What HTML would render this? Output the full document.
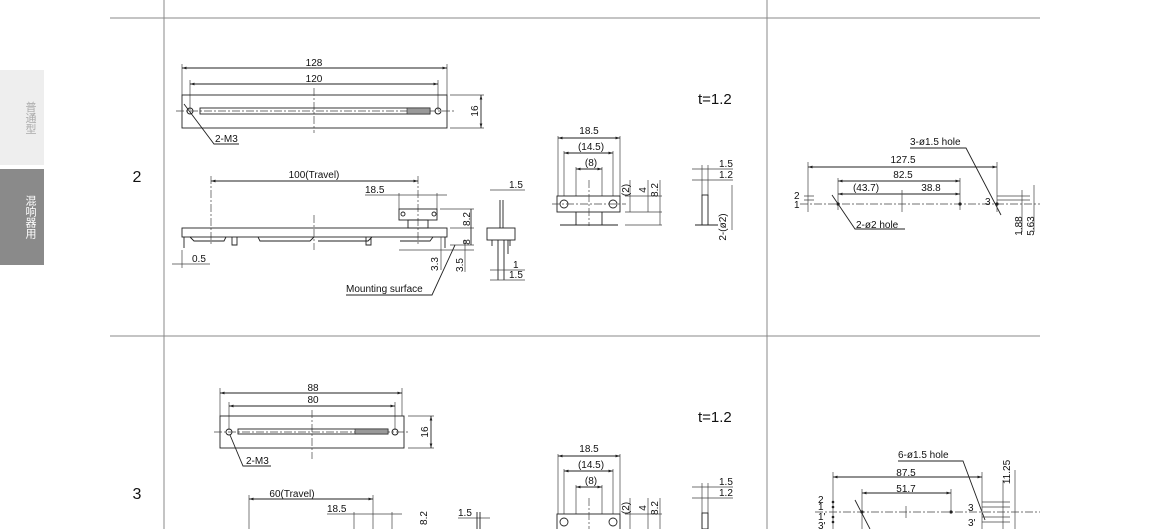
<!DOCTYPE html>
<html><head><meta charset="utf-8"><style>
html,body{margin:0;padding:0;background:#fff;width:1150px;height:529px;overflow:hidden;position:relative}
svg{display:block;position:absolute;left:0;top:0}
text{font-family:"Liberation Sans",Arial,sans-serif;font-size:10px;fill:#111}
.l{stroke:#222;stroke-width:.9;fill:none}
.t{stroke:#444;stroke-width:.7;fill:none}
.c{stroke:#444;stroke-width:.7;fill:none;stroke-dasharray:8 2 2 2}
.g{stroke:#888;stroke-width:1}
.tab{position:absolute;left:0;width:44px;z-index:2}
.tab span{position:absolute;left:24px;top:50%;transform:translateY(-50%);writing-mode:vertical-rl;white-space:nowrap;font-family:"Liberation Sans","Noto Sans CJK SC",sans-serif;font-size:11px;line-height:12px}
</style></head><body>
<div class="tab" style="top:70px;height:95px;background:#eeeeee;color:#aaa"><span>普通型</span></div>
<div class="tab" style="top:169px;height:96px;background:#8a8a8a;color:#fff"><span>混响器用</span></div>
<svg width="1150" height="529" viewBox="0 0 1150 529">
<defs><marker id="a" viewBox="0 0 10 10" refX="10" refY="5" markerWidth="5" markerHeight="5" orient="auto-start-reverse"><path d="M0,2L10,5L0,8z" fill="#222"/></marker></defs>
<line class="g" x1="110" y1="18" x2="1040" y2="18"/>
<line class="g" x1="110" y1="336" x2="1040" y2="336"/>
<line class="g" x1="164" y1="0" x2="164" y2="529"/>
<line class="g" x1="767" y1="0" x2="767" y2="529"/>
<text x="137" y="182" text-anchor="middle" style="font-size:16px">2</text>
<text x="137" y="499" text-anchor="middle" style="font-size:16px">3</text>

<line class="t" x1="182" y1="64" x2="182" y2="95"/><line class="t" x1="447" y1="64" x2="447" y2="95"/>
<line class="l" x1="182" y1="68" x2="447" y2="68" marker-start="url(#a)" marker-end="url(#a)"/>
<text x="314" y="66" text-anchor="middle">128</text>
<line class="t" x1="190" y1="80" x2="190" y2="110"/><line class="t" x1="438" y1="80" x2="438" y2="110"/>
<line class="l" x1="190" y1="84" x2="438" y2="84" marker-start="url(#a)" marker-end="url(#a)"/>
<text x="314" y="82" text-anchor="middle">120</text>
<rect class="l" x="182" y="95" width="265" height="33"/>
<line class="c" x1="176" y1="111" x2="455" y2="111"/>
<line class="c" x1="314" y1="88" x2="314" y2="133"/>
<rect class="l" x="200" y="108" width="230" height="6"/>
<rect x="407" y="108" width="23" height="6" fill="#999" stroke="#222" stroke-width=".6"/>
<circle class="l" cx="190" cy="111" r="3"/><circle class="l" cx="438" cy="111" r="3"/>
<line class="t" x1="450" y1="95" x2="484" y2="95"/><line class="t" x1="450" y1="128" x2="484" y2="128"/>
<line class="l" x1="481" y1="95" x2="481" y2="128" marker-start="url(#a)" marker-end="url(#a)"/>
<text x="478" y="111" text-anchor="middle" transform="rotate(-90 478 111)">16</text>
<polyline class="l" points="184,104 214,144 239,144"/>
<text x="215" y="142">2-M3</text>

<text x="314" y="178" text-anchor="middle">100(Travel)</text>
<line class="l" x1="211" y1="181" x2="418" y2="181" marker-start="url(#a)" marker-end="url(#a)"/>
<line class="c" x1="211" y1="176" x2="211" y2="245"/><line class="c" x1="418" y1="176" x2="418" y2="245"/>
<text x="365" y="193">18.5</text>
<line class="t" x1="365" y1="195" x2="447" y2="195"/>
<line class="t" x1="399" y1="193" x2="399" y2="209"/><line class="t" x1="437" y1="193" x2="437" y2="209"/>
<rect class="l" x="399" y="209" width="38" height="11"/>
<circle class="l" cx="403" cy="214" r="2"/><circle class="l" cx="434" cy="214" r="2"/>
<rect class="l" x="408" y="220" width="20" height="8"/>
<rect class="l" x="182" y="228" width="265" height="9"/>
<path class="l" d="M184,237V248M445,237V248M190,237l4,4h30l2,-4M232,237v8h5v-8M258,237l2,4h50l4,-4M318,241h50l4,-4M366,237v8h5v-8M400,241h30l3,-4"/>
<line class="c" x1="314" y1="215" x2="314" y2="250"/>
<line class="t" x1="182" y1="250" x2="182" y2="268"/><line class="t" x1="172" y1="264" x2="210" y2="264"/>
<text x="192" y="262">0.5</text>
<line class="t" x1="440" y1="209" x2="474" y2="209"/><line class="t" x1="450" y1="228" x2="474" y2="228"/><line class="t" x1="450" y1="245" x2="474" y2="245"/>
<line class="t" x1="399" y1="250" x2="474" y2="250"/>
<line class="l" x1="471" y1="209" x2="471" y2="228"/><line class="l" x1="471" y1="228" x2="471" y2="245"/>
<text x="470" y="219" text-anchor="middle" transform="rotate(-90 470 219)">8.2</text>
<text x="470" y="242" text-anchor="middle" transform="rotate(-90 470 242)">8</text>
<line class="t" x1="441" y1="237" x2="441" y2="270"/><line class="t" x1="465" y1="240" x2="465" y2="272"/>
<text x="438" y="264" text-anchor="middle" transform="rotate(-90 438 264)">3.3</text>
<text x="463" y="265" text-anchor="middle" transform="rotate(-90 463 265)">3.5</text>
<polyline class="l" points="346,295 432,295 455,245"/>
<text x="346" y="292">Mounting surface</text>
<rect class="l" x="487" y="228" width="28" height="12"/>
<path class="l" d="M500,200V228M503,200V228M492,240v6M510,240v6M498,240v40M504,240v40M508,240v14"/>
<line class="t" x1="490" y1="190" x2="525" y2="190"/><text x="509" y="188">1.5</text>
<line class="t" x1="490" y1="270" x2="525" y2="270"/><text x="513" y="268">1</text>
<line class="t" x1="490" y1="280" x2="525" y2="280"/><text x="509" y="278">1.5</text>

<text x="698" y="104" style="font-size:15px">t=1.2</text>
<text x="589" y="134" text-anchor="middle">18.5</text>
<line class="l" x1="558" y1="138" x2="620" y2="138" marker-start="url(#a)" marker-end="url(#a)"/>
<text x="591" y="150" text-anchor="middle">(14.5)</text>
<line class="l" x1="564" y1="153" x2="613" y2="153" marker-start="url(#a)" marker-end="url(#a)"/>
<text x="591" y="166" text-anchor="middle">(8)</text>
<line class="l" x1="576" y1="169" x2="602" y2="169" marker-start="url(#a)" marker-end="url(#a)"/>
<path class="t" d="M558,136V196M620,136V196M564,151V196M613,151V196M576,167V196M602,167V196"/>
<rect class="l" x="557" y="196" width="63" height="16"/>
<circle class="l" cx="564" cy="204" r="4"/><circle class="l" cx="613" cy="204" r="4"/>
<line class="c" x1="552" y1="204" x2="626" y2="204"/><line class="c" x1="589" y1="180" x2="589" y2="226"/>
<path class="l" d="M576,212V225M602,212V225M560,225H618"/>
<path class="t" d="M625,196H662M625,212H662M625,225H662M630,180V212M648,180V212M660,180V225"/>
<text x="629" y="190" text-anchor="middle" transform="rotate(-90 629 190)">(2)</text>
<text x="646" y="190" text-anchor="middle" transform="rotate(-90 646 190)">4</text>
<text x="658" y="190" text-anchor="middle" transform="rotate(-90 658 190)">8.2</text>
<path class="t" d="M692,169H733M692,180H733M702,165V196M708,165V196M732,185V230"/>
<text x="719" y="167">1.5</text><text x="719" y="178">1.2</text>
<rect class="l" x="702" y="195" width="6" height="30"/>
<path class="l" d="M695,225H718"/>
<text x="726" y="227" text-anchor="middle" transform="rotate(-90 726 227)">2-(ø2)</text>

<text x="910" y="145">3-ø1.5 hole</text>
<polyline class="l" points="910,148 966,148 1001,215"/>
<text x="903" y="163" text-anchor="middle">127.5</text>
<line class="l" x1="808" y1="167" x2="997" y2="167" marker-start="url(#a)" marker-end="url(#a)"/>
<text x="903" y="178" text-anchor="middle">82.5</text>
<line class="l" x1="838" y1="181" x2="960" y2="181" marker-start="url(#a)" marker-end="url(#a)"/>
<text x="866" y="191" text-anchor="middle">(43.7)</text><text x="931" y="191" text-anchor="middle">38.8</text>
<line class="l" x1="838" y1="194" x2="960" y2="194" marker-start="url(#a)" marker-end="url(#a)"/>
<path class="t" d="M808,162V212M838,178V210M960,178V210M997,162V212M902,190V212"/>
<line class="c" x1="800" y1="204" x2="1040" y2="204"/>
<circle cx="838" cy="204" r="1.6" fill="#222"/><circle cx="960" cy="204" r="1.6" fill="#222"/><circle cx="997" cy="204" r="1.6" fill="#222"/>
<text x="794" y="199">2</text><text x="794" y="208">1</text>
<path class="t" d="M804,196H814M804,200H814M997,196H1030M997,200H1030M1022,190V232M1034,185V232"/>
<text x="985" y="205">3</text>
<polyline class="l" points="832,195 855,229 905,229"/>
<text x="856" y="228">2-ø2 hole</text>
<text x="1022" y="226" text-anchor="middle" transform="rotate(-90 1022 226)">1.88</text>
<text x="1034" y="226" text-anchor="middle" transform="rotate(-90 1034 226)">5.63</text>

<line class="t" x1="220" y1="388" x2="220" y2="416"/><line class="t" x1="402" y1="388" x2="402" y2="416"/>
<line class="l" x1="220" y1="393" x2="402" y2="393" marker-start="url(#a)" marker-end="url(#a)"/>
<text x="313" y="391" text-anchor="middle">88</text>
<line class="t" x1="229" y1="402" x2="229" y2="430"/><line class="t" x1="395" y1="402" x2="395" y2="430"/>
<line class="l" x1="229" y1="406" x2="395" y2="406" marker-start="url(#a)" marker-end="url(#a)"/>
<text x="313" y="403" text-anchor="middle">80</text>
<rect class="l" x="220" y="416" width="184" height="32"/>
<line class="c" x1="214" y1="432" x2="410" y2="432"/>
<line class="c" x1="312" y1="410" x2="312" y2="459"/>
<rect class="l" x="238" y="429" width="150" height="5"/>
<rect x="355" y="429" width="33" height="5" fill="#999" stroke="#222" stroke-width=".6"/>
<circle class="l" cx="229" cy="432" r="3"/><circle class="l" cx="395" cy="432" r="3"/>
<line class="t" x1="408" y1="416" x2="434" y2="416"/><line class="t" x1="408" y1="448" x2="434" y2="448"/>
<line class="l" x1="431" y1="416" x2="431" y2="448" marker-start="url(#a)" marker-end="url(#a)"/>
<text x="428" y="432" text-anchor="middle" transform="rotate(-90 428 432)">16</text>
<polyline class="l" points="230,435 243,466 271,466"/>
<text x="246" y="464">2-M3</text>
<text x="292" y="497" text-anchor="middle">60(Travel)</text>
<line class="l" x1="249" y1="499" x2="373" y2="499" marker-start="url(#a)" marker-end="url(#a)"/>
<path class="t" d="M249,495V529M373,495V529M354,512V529M392,512V529"/>
<text x="327" y="512">18.5</text>
<line class="t" x1="327" y1="514" x2="402" y2="514"/>
<text x="427" y="518" text-anchor="middle" transform="rotate(-90 427 518)">8.2</text>
<text x="458" y="516">1.5</text><line class="t" x1="458" y1="518" x2="490" y2="518"/>
<path class="l" d="M477,512V529M480,512V529"/>

<text x="698" y="422" style="font-size:15px">t=1.2</text>
<text x="589" y="452" text-anchor="middle">18.5</text>
<line class="l" x1="558" y1="456" x2="620" y2="456" marker-start="url(#a)" marker-end="url(#a)"/>
<text x="591" y="468" text-anchor="middle">(14.5)</text>
<line class="l" x1="564" y1="471" x2="613" y2="471" marker-start="url(#a)" marker-end="url(#a)"/>
<text x="591" y="484" text-anchor="middle">(8)</text>
<line class="l" x1="576" y1="487" x2="602" y2="487" marker-start="url(#a)" marker-end="url(#a)"/>
<path class="t" d="M558,454V514M620,454V514M564,469V514M613,469V514M576,485V514M602,485V514"/>
<rect class="l" x="557" y="514" width="63" height="16"/>
<circle class="l" cx="564" cy="522" r="4"/><circle class="l" cx="613" cy="522" r="4"/>
<line class="c" x1="589" y1="498" x2="589" y2="529"/>
<path class="t" d="M625,514H662M630,498V529M648,498V529M660,498V529"/>
<text x="629" y="508" text-anchor="middle" transform="rotate(-90 629 508)">(2)</text>
<text x="646" y="508" text-anchor="middle" transform="rotate(-90 646 508)">4</text>
<text x="658" y="508" text-anchor="middle" transform="rotate(-90 658 508)">8.2</text>
<path class="t" d="M692,487H733M692,498H733M702,483V529M708,483V529"/>
<text x="719" y="485">1.5</text><text x="719" y="496">1.2</text>
<rect class="l" x="702" y="513" width="6" height="16"/>

<text x="898" y="458">6-ø1.5 hole</text>
<polyline class="l" points="898,461 963,461 985,520"/>
<text x="906" y="476" text-anchor="middle">87.5</text>
<line class="l" x1="833" y1="477" x2="982" y2="477" marker-start="url(#a)" marker-end="url(#a)"/>
<text x="906" y="492" text-anchor="middle">51.7</text>
<line class="l" x1="862" y1="493" x2="951" y2="493" marker-start="url(#a)" marker-end="url(#a)"/>
<path class="t" d="M833,472V529M862,489V529M951,489V512M982,472V529M906,506V518"/>
<line class="c" x1="815" y1="512" x2="1040" y2="512"/>
<circle cx="862" cy="512" r="1.6" fill="#222"/><circle cx="951" cy="512" r="1.6" fill="#222"/>
<circle cx="833" cy="502" r="1.3" fill="#222"/><circle cx="833" cy="507" r="1.3" fill="#222"/><circle cx="833" cy="517" r="1.3" fill="#222"/><circle cx="833" cy="522" r="1.3" fill="#222"/>
<text x="818" y="503">2</text><text x="818" y="510">1</text><text x="818" y="520">1'</text><text x="818" y="529">3'</text>
<text x="968" y="511">3</text><text x="968" y="526">3'</text>
<path class="t" d="M982,502H1010M982,507H1010M982,517H1010M982,522H1010M1003,480V529M1015,470V529"/>
<line class="l" x1="855" y1="500" x2="870" y2="529"/>
<text x="1010" y="472" text-anchor="middle" transform="rotate(-90 1010 472)">11.25</text>
</svg>
</body></html>
